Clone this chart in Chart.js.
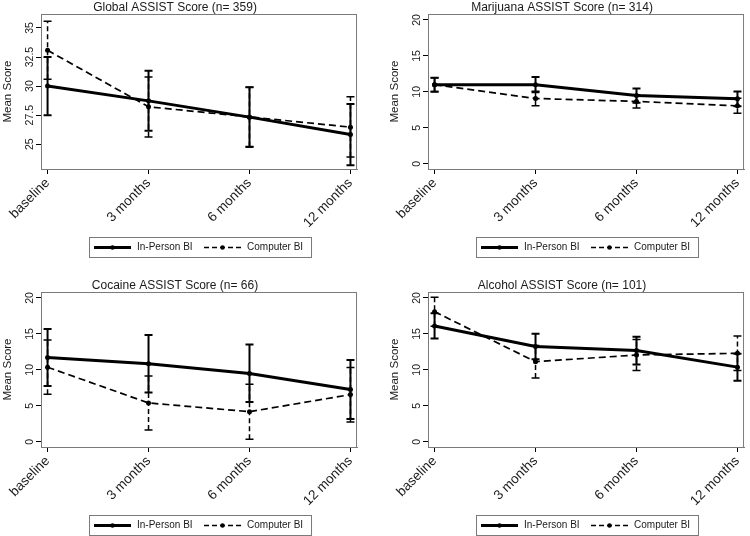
<!DOCTYPE html>
<html lang="en">
<head>
<meta charset="UTF-8">
<title>ASSIST Scores by Intervention</title>
<style>
    body { margin: 0; background: #fff; overflow: hidden; }
    #wrap { position: relative; width: 750px; height: 536px; }
    canvas { position: absolute; }
</style>
</head>
<body>
<div id="wrap">
    <canvas id="globalChart" width="363" height="258" style="left:0;top:0"></canvas>
    <canvas id="marijuanaChart" width="363" height="258" style="left:387px;top:0"></canvas>
    <canvas id="cocaineChart" width="363" height="258" style="left:0;top:278px"></canvas>
    <canvas id="alcoholChart" width="363" height="258" style="left:387px;top:278px"></canvas>
</div>

<script src="https://cdn.jsdelivr.net/npm/chart.js"></script>
<script>
const timepoints = ['baseline', '3 months', '6 months', '12 months'];
const seriesNames = ['In-Person BI', 'Computer BI'];

// Global ASSIST score (n = 359)
const globalTicks = [25, 27.5, 30, 32.5, 35];
const globalInPerson   = [30.0, 28.73, 27.33, 25.84];
const globalInPersonLo = [27.5, 26.15, 24.77, 23.2];
const globalInPersonHi = [32.5, 31.32, 29.89, 28.47];
const globalComputer   = [33.08, 28.22, 27.35, 26.47];
const globalComputerLo = [30.58, 25.63, 24.8, 23.9];
const globalComputerHi = [35.58, 30.78, 29.9, 29.08];

// Marijuana ASSIST score (n = 314)
const substanceTicks = [0, 5, 10, 15, 20];
const marijuanaInPerson   = [11.0, 11.0, 9.5, 9.03];
const marijuanaInPersonLo = [10.0, 9.95, 8.5, 8.0];
const marijuanaInPersonHi = [11.95, 12.05, 10.47, 10.05];
const marijuanaComputer   = [11.0, 9.08, 8.67, 8.06];
const marijuanaComputerLo = [10.05, 8.06, 7.74, 7.04];
const marijuanaComputerHi = [11.95, 10.1, 9.6, 9.1];

// Cocaine ASSIST score (n = 66)
const cocaineInPerson   = [11.72, 10.84, 9.49, 7.26];
const cocaineInPersonLo = [7.77, 6.84, 5.53, 3.16];
const cocaineInPersonHi = [15.67, 14.84, 13.53, 11.36];
const cocaineComputer   = [10.37, 5.40, 4.19, 6.56];
const cocaineComputerLo = [6.6, 1.63, 0.37, 2.76];
const cocaineComputerHi = [14.14, 9.16, 8.0, 10.33];

// Alcohol ASSIST score (n = 101)
const alcoholInPerson   = [16.1, 13.24, 12.68, 10.38];
const alcoholInPersonLo = [14.37, 11.46, 10.75, 8.5];
const alcoholInPersonHi = [17.85, 15.02, 14.6, 12.25];
const alcoholComputer   = [18.08, 11.13, 12.07, 12.30];
const alcoholComputerLo = [16.06, 8.87, 9.9, 9.9];
const alcoholComputerHi = [20.09, 13.4, 14.23, 14.69];

const FONT = '"Liberation Sans", Arial, sans-serif';
const TEXT = '#1a1a1a';
const FRAME = '#7a7a7a';

const solidStyle = { width: 3, dash: [], barWidth: 2 };
const dashStyle = { width: 1.7, dash: [7, 4], barWidth: 1.5 };

// frame, title, rotated y labels, error bars and the legend box
const stataLook = {
    id: 'stataLook',
    beforeDraw(chart) {
        const ctx = chart.ctx;
        ctx.save();
        ctx.fillStyle = '#fff';
        ctx.fillRect(0, 0, chart.width, chart.height);
        ctx.restore();
    },
    afterDatasetsDraw(chart) {
        const ctx = chart.ctx;
        const xs = chart.scales.x, ys = chart.scales.y;
        chart.data.datasets.forEach(ds => {
            const st = ds.errStyle;
            ctx.save();
            ctx.strokeStyle = '#000';
            ctx.lineWidth = st.barWidth;
            ds.data.forEach((p, j) => {
                const x = xs.getPixelForValue(p.x);
                const yLo = ys.getPixelForValue(ds.lo[j]);
                const yHi = ys.getPixelForValue(ds.hi[j]);
                ctx.setLineDash(st.dash.length ? [5, 3] : []);
                ctx.beginPath();
                ctx.moveTo(x, yLo);
                ctx.lineTo(x, yHi);
                ctx.stroke();
                ctx.setLineDash([]);
                ctx.beginPath();
                ctx.moveTo(x - 4, yLo); ctx.lineTo(x + 4, yLo);
                ctx.moveTo(x - 4, yHi); ctx.lineTo(x + 4, yHi);
                ctx.stroke();
            });
            ctx.restore();
        });
    },
    afterDraw(chart, args, opts) {
        const ctx = chart.ctx;
        const a = chart.chartArea;
        const ys = chart.scales.y;
        ctx.save();

        // plot frame
        ctx.strokeStyle = FRAME;
        ctx.lineWidth = 1;
        ctx.strokeRect(a.left + 0.5, a.top + 0.5, a.right - a.left - 1, a.bottom - a.top);

        // panel title
        ctx.fillStyle = TEXT;
        ctx.font = '12px ' + FONT;
        ctx.textAlign = 'center';
        ctx.textBaseline = 'middle';
        ctx.fillText(opts.title, (a.left + a.right) / 2 - 24, 7.5);

        // y tick labels, rotated
        ctx.font = '10.5px ' + FONT;
        ys.ticks.forEach(t => {
            const y = ys.getPixelForValue(t.value);
            ctx.save();
            ctx.translate(a.left - 10.5, y);
            ctx.rotate(-Math.PI / 2);
            ctx.fillText(String(t.value), 0, 0);
            ctx.restore();
        });

        // legend
        const cx = (a.left + a.right) / 2 + 1;
        const bx = cx - 111, by = a.bottom + 68, bw = 222, bh = 20;
        ctx.strokeStyle = FRAME;
        ctx.strokeRect(bx + 0.5, by + 0.5, bw, bh);
        const my = by + bh / 2 + 0.5;
        const samples = [
            { x: bx + 5, st: solidStyle, label: seriesNames[0], tx: bx + 48 },
            { x: bx + 115, st: dashStyle, label: seriesNames[1], tx: bx + 158 }
        ];
        samples.forEach(s => {
            ctx.strokeStyle = '#000';
            ctx.lineWidth = s.st.width;
            ctx.setLineDash(s.st.dash.length ? [5, 3] : []);
            ctx.beginPath();
            ctx.moveTo(s.x, my);
            ctx.lineTo(s.x + 37, my);
            ctx.stroke();
            ctx.setLineDash([]);
            ctx.fillStyle = '#000';
            ctx.beginPath();
            ctx.arc(s.x + 18.5, my, 2.2, 0, Math.PI * 2);
            ctx.fill();
            ctx.fillStyle = TEXT;
            ctx.font = '10px ' + FONT;
            ctx.textAlign = 'left';
            ctx.textBaseline = 'middle';
            ctx.fillText(s.label, s.tx, my);
        });
        ctx.restore();
    }
};

function series(label, values, lo, hi, st) {
    return {
        label: label,
        data: values.map((v, i) => ({ x: i, y: v })),
        lo: lo,
        hi: hi,
        errStyle: st,
        borderColor: '#000',
        backgroundColor: '#000',
        borderWidth: st.width,
        borderDash: st.dash,
        pointRadius: 2.5,
        pointBorderWidth: 0,
        pointBackgroundColor: '#000',
        tension: 0
    };
}

function makePanel(id, title, yMin, yMax, yTicks, ip, ipLo, ipHi, cb, cbLo, cbHi) {
    return new Chart(document.getElementById(id), {
        type: 'line',
        data: {
            datasets: [
                series(seriesNames[0], ip, ipLo, ipHi, solidStyle),
                series(seriesNames[1], cb, cbLo, cbHi, dashStyle)
            ]
        },
        options: {
            responsive: false,
            animation: false,
            layout: { padding: { top: 14, right: 4, bottom: 26, left: 0 } },
            plugins: {
                legend: { display: false },
                tooltip: { enabled: false },
                stataLook: { title: title }
            },
            scales: {
                x: {
                    type: 'linear',
                    min: -0.065,
                    max: 3.065,
                    afterBuildTicks: s => { s.ticks = timepoints.map((_, i) => ({ value: i })); },
                    afterFit: s => { s.height = 63; },
                    ticks: {
                        autoSkip: false,
                        minRotation: 45,
                        maxRotation: 45,
                        padding: 1,
                        color: TEXT,
                        font: { family: FONT, size: 13.5 },
                        callback: v => timepoints[v]
                    },
                    grid: { drawOnChartArea: false, drawTicks: true, tickLength: 5, tickColor: '#000' },
                    border: { display: true, color: FRAME }
                },
                y: {
                    min: yMin,
                    max: yMax,
                    afterBuildTicks: s => { s.ticks = yTicks.map(v => ({ value: v })); },
                    afterFit: s => { s.width = 41; },
                    ticks: { display: false },
                    grid: { drawOnChartArea: false, drawTicks: true, tickLength: 5, tickColor: '#000' },
                    border: { display: true, color: FRAME },
                    title: {
                        display: true,
                        text: 'Mean Score',
                        color: TEXT,
                        font: { family: FONT, size: 11.5 },
                        padding: { top: 1, bottom: 0 }
                    }
                }
            }
        },
        plugins: [stataLook]
    });
}

makePanel('globalChart', 'Global ASSIST Score (n= 359)', 22.87, 36.2, globalTicks,
    globalInPerson, globalInPersonLo, globalInPersonHi, globalComputer, globalComputerLo, globalComputerHi);
makePanel('marijuanaChart', 'Marijuana ASSIST Score (n= 314)', -0.72, 20.82, substanceTicks,
    marijuanaInPerson, marijuanaInPersonLo, marijuanaInPersonHi, marijuanaComputer, marijuanaComputerLo, marijuanaComputerHi);
makePanel('cocaineChart', 'Cocaine ASSIST Score (n= 66)', -0.72, 20.82, substanceTicks,
    cocaineInPerson, cocaineInPersonLo, cocaineInPersonHi, cocaineComputer, cocaineComputerLo, cocaineComputerHi);
makePanel('alcoholChart', 'Alcohol ASSIST Score (n= 101)', -0.72, 20.82, substanceTicks,
    alcoholInPerson, alcoholInPersonLo, alcoholInPersonHi, alcoholComputer, alcoholComputerLo, alcoholComputerHi);
</script>
</body>
</html>
